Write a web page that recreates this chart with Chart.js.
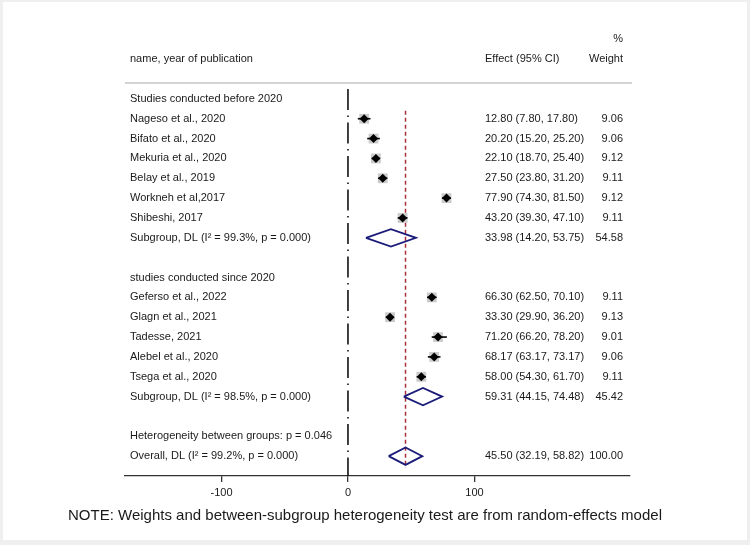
<!DOCTYPE html>
<html>
<head>
<meta charset="utf-8">
<script src="https://cdn.jsdelivr.net/npm/chart.js@4.4.1/dist/chart.umd.min.js"></script>
<style>
  body { margin: 0; background: #f0f0f0; }
  canvas { display: block; }
</style>
</head>
<body>
<canvas id="forest" width="750" height="545"></canvas>
<script>
"use strict"

// rows of the forest plot, top to bottom
let rowLabels = [
  "Studies conducted before 2020",
  "Nageso et al., 2020",
  "Bifato et al., 2020",
  "Mekuria et al., 2020",
  "Belay et al., 2019",
  "Workneh et al,2017",
  "Shibeshi, 2017",
  "Subgroup, DL (I² = 99.3%, p = 0.000)",
  "",
  "studies conducted since 2020",
  "Geferso et al., 2022",
  "Glagn et al., 2021",
  "Tadesse, 2021",
  "Alebel et al., 2020",
  "Tsega et al., 2020",
  "Subgroup, DL (I² = 98.5%, p = 0.000)",
  "",
  "Heterogeneity between groups: p = 0.046",
  "Overall, DL (I² = 99.2%, p = 0.000)"
];

// s = study, p = pooled estimate, anything else is just a text row
let rowTypes = ["", "s", "s", "s", "s", "s", "s", "p", "", "", "s", "s", "s", "s", "s", "p", "", "", "p"];

let estimates = [null, 12.80, 20.20, 22.10, 27.50, 77.90, 43.20, 33.98, null, null, 66.30, 33.30, 71.20, 68.17, 58.00, 59.31, null, null, 45.50];
let lowerCI = [null, 7.80, 15.20, 18.70, 23.80, 74.30, 39.30, 14.20, null, null, 62.50, 29.90, 66.20, 63.17, 54.30, 44.15, null, null, 32.19];
let upperCI = [null, 17.80, 25.20, 25.40, 31.20, 81.50, 47.10, 53.75, null, null, 70.10, 36.20, 78.20, 73.17, 61.70, 74.48, null, null, 58.82];
let weights = [null, 9.06, 9.06, 9.12, 9.11, 9.12, 9.11, 54.58, null, null, 9.11, 9.13, 9.01, 9.06, 9.11, 45.42, null, null, 100.00];

let tickVals = [-100, 0, 100];
let nullValue = 0;
let overallValue = estimates[estimates.length - 1];

let textColor = "#1a1a1a";
let fontName = "'Liberation Sans', Arial, sans-serif";

// build the datasets
let datasets = [];

for (let i = 0; i < rowLabels.length; i++) {
  if (rowTypes[i] === "s") {
    // confidence interval line
    datasets.push({
      type: "scatter",
      showLine: true,
      data: [{ x: lowerCI[i], y: i }, { x: upperCI[i], y: i }],
      borderColor: "#000",
      borderWidth: 1.6,
      pointRadius: 0,
      order: 1
    });
  }
  if (rowTypes[i] === "p") {
    // pooled diamond
    let h = 0.44;
    datasets.push({
      type: "scatter",
      showLine: true,
      data: [
        { x: lowerCI[i], y: i },
        { x: estimates[i], y: i - h },
        { x: upperCI[i], y: i },
        { x: estimates[i], y: i + h },
        { x: lowerCI[i], y: i }
      ],
      borderColor: "#1b1b7a",
      borderWidth: 1.8,
      pointRadius: 0,
      tension: 0,
      order: 3
    });
  }
}

let studyPoints = [];
let boxRadius = [];
for (let i = 0; i < rowLabels.length; i++) {
  if (rowTypes[i] === "s") {
    studyPoints.push({ x: estimates[i], y: i });
    boxRadius.push(Math.sqrt(weights[i]) * 2.3);
  }
}

// grey weight boxes
datasets.push({
  type: "scatter",
  data: studyPoints,
  pointStyle: "rect",
  pointRadius: boxRadius,
  backgroundColor: "#cbcbcb",
  borderWidth: 0,
  order: 2
});

// black point estimates
datasets.push({
  type: "scatter",
  data: studyPoints,
  pointStyle: "rectRot",
  pointRadius: 4.5,
  backgroundColor: "#000",
  borderColor: "#000",
  borderWidth: 0,
  order: 0
});

// overall effect line (red dashed)
datasets.push({
  type: "scatter",
  showLine: true,
  data: [{ x: overallValue, y: 0.6 }, { x: overallValue, y: 18.6 }],
  borderColor: "#a8303a",
  borderWidth: 1.5,
  borderDash: [4, 3],
  pointRadius: 0,
  order: 4
});

// no-effect line
datasets.push({
  type: "scatter",
  showLine: true,
  data: [{ x: nullValue, y: -0.5 }, { x: nullValue, y: 19 }],
  borderColor: "#111",
  borderWidth: 1.6,
  borderDash: [21, 5.5, 1.5, 5.5],
  pointRadius: 0,
  order: 5
});

// text columns and frame
const forestText = {
  id: "forestText",
  beforeDraw(chart) {
    const ctx = chart.ctx;
    ctx.save();
    ctx.fillStyle = "#efefef";
    ctx.fillRect(0, 0, chart.width, chart.height);
    ctx.fillStyle = "#fff";
    ctx.fillRect(3, 2, 744, 538);
    ctx.restore();
  },
  afterDraw(chart) {
    const ctx = chart.ctx;
    const yScale = chart.scales.y;
    const area = chart.chartArea;
    ctx.save();

    // header separator
    ctx.strokeStyle = "#d4d4d4";
    ctx.lineWidth = 2;
    ctx.beginPath();
    ctx.moveTo(area.left, area.top);
    ctx.lineTo(632, area.top);
    ctx.stroke();

    ctx.fillStyle = textColor;
    ctx.font = "11px " + fontName;
    ctx.textBaseline = "middle";

    // headers
    ctx.textAlign = "left";
    ctx.fillText("name, year of publication", 130, 59);
    ctx.fillText("Effect (95% CI)", 485, 59);
    ctx.textAlign = "right";
    ctx.fillText("%", 623, 39);
    ctx.fillText("Weight", 623, 59);

    for (let i = 0; i < rowLabels.length; i++) {
      let y = yScale.getPixelForValue(i);
      ctx.textAlign = "left";
      ctx.fillText(rowLabels[i], 130, y);
      if (estimates[i] !== null) {
        let txt = estimates[i].toFixed(2) + " (" + lowerCI[i].toFixed(2) + ", " + upperCI[i].toFixed(2) + ")";
        ctx.fillText(txt, 485, y);
        ctx.textAlign = "right";
        ctx.fillText(weights[i].toFixed(2), 623, y);
      }
    }

    // footnote
    ctx.textAlign = "center";
    ctx.font = "15px " + fontName;
    ctx.fillText("NOTE: Weights and between-subgroup heterogeneity test are from random-effects model", 365, 516);
    ctx.restore();
  }
};

const ctx = document.getElementById("forest").getContext("2d");
const forestChart = new Chart(ctx, {
  type: "scatter",
  data: { datasets: datasets },
  options: {
    responsive: false,
    animation: false,
    layout: { padding: { left: 125, right: 120, top: 83, bottom: 0 } },
    plugins: {
      legend: { display: false },
      tooltip: { enabled: false }
    },
    scales: {
      x: {
        type: "linear",
        min: -176.3,
        max: 223,
        afterBuildTicks: (scale) => {
          scale.ticks = tickVals.map(v => ({ value: v }));
        },
        afterFit: (scale) => {
          scale.height = 69;
        },
        grid: { drawOnChartArea: false, drawTicks: true, tickLength: 6, color: "#333", lineWidth: 1.3 },
        border: { display: true, color: "#333", width: 1.3 },
        ticks: {
          color: textColor,
          padding: 4,
          maxRotation: 0,
          font: { family: "'Liberation Sans', Arial, sans-serif", size: 11 }
        }
      },
      y: {
        type: "linear",
        display: false,
        reverse: true,
        min: -0.8,
        max: 19
      }
    }
  },
  plugins: [forestText]
});
</script>
</body>
</html>
